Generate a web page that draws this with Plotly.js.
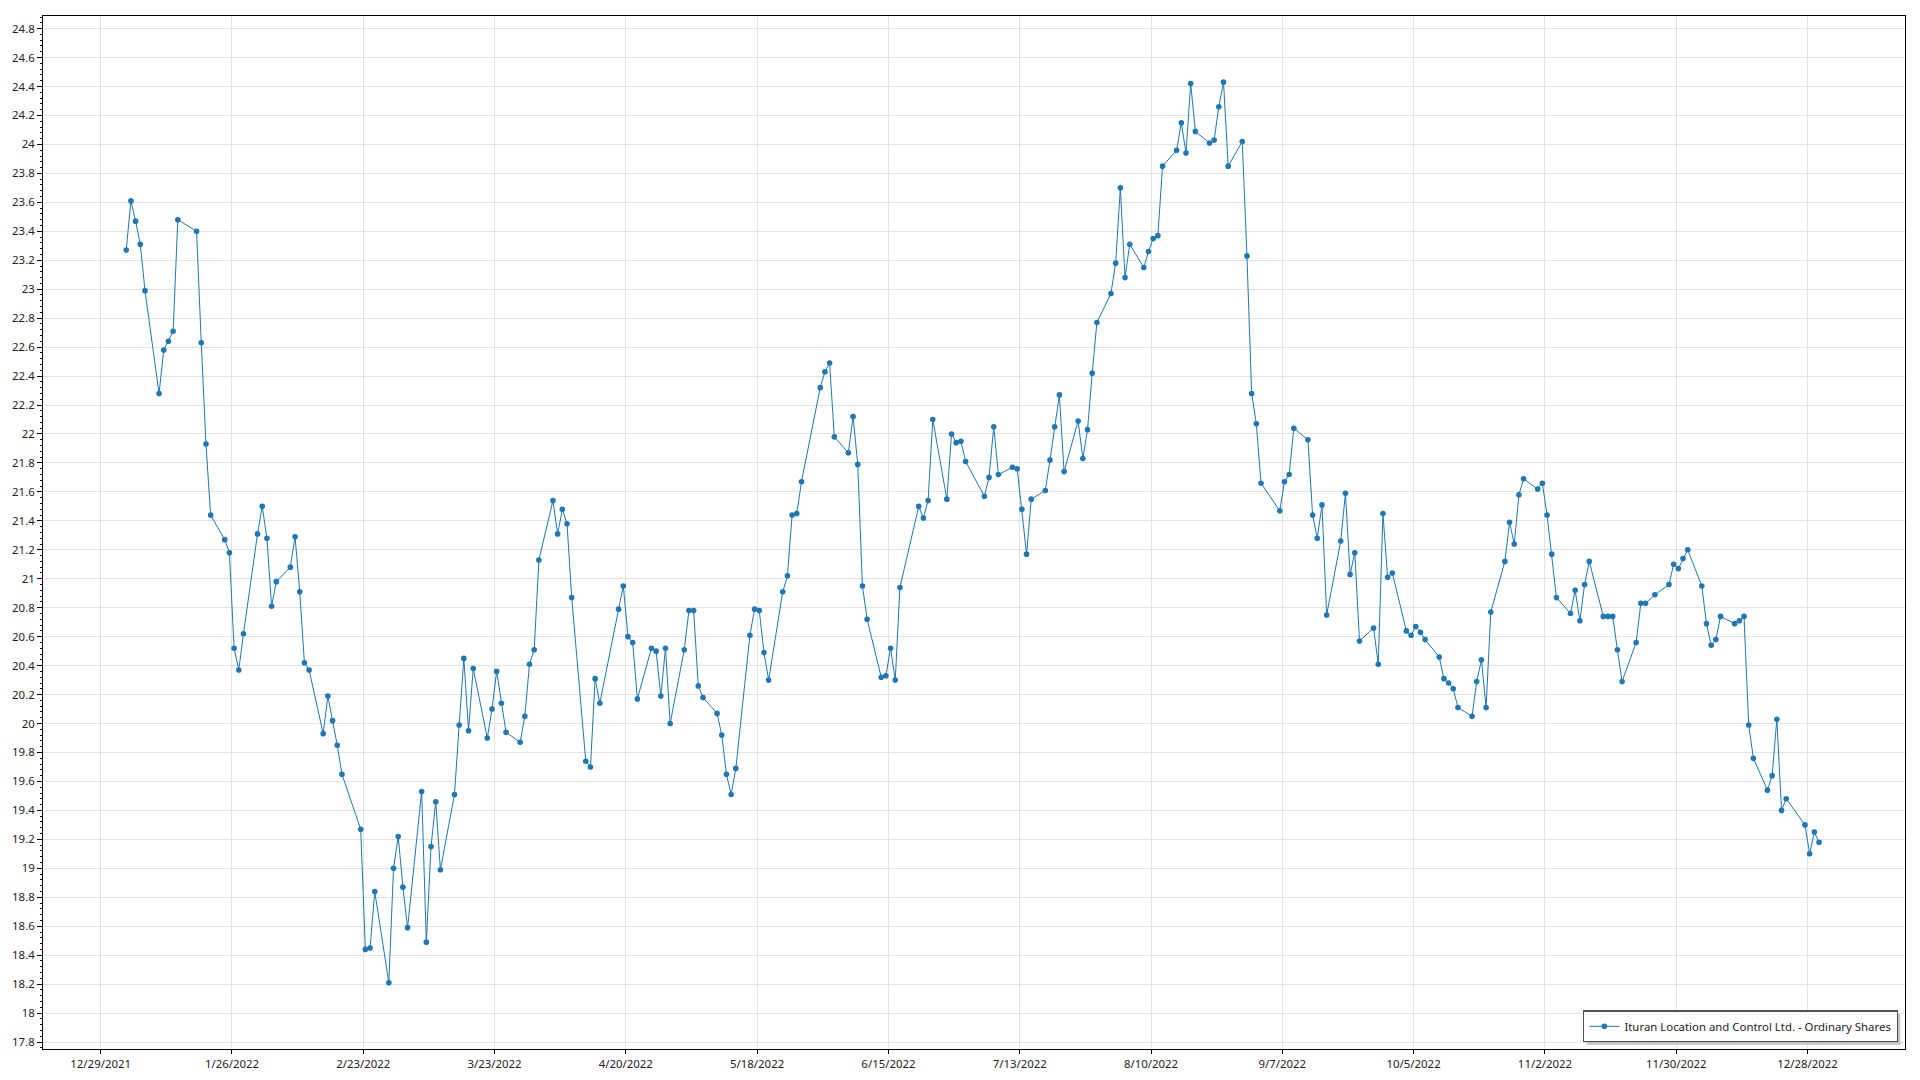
<!DOCTYPE html>
<html>
<head>
<meta charset="utf-8">
<script src="https://cdn.plot.ly/plotly-3.0.1.min.js"></script>
<style>
  html, body { margin: 0; padding: 0; background: #fff; }
  #chart { width: 1920px; height: 1080px; }
</style>
</head>
<body>
<div id="chart"></div>
<script>
const seriesName = "Ituran Location and Control Ltd. - Ordinary Shares";

const dates = [
  "2022-01-03","2022-01-04","2022-01-05","2022-01-06","2022-01-07",
  "2022-01-10","2022-01-11","2022-01-12","2022-01-13","2022-01-14",
  "2022-01-18","2022-01-19","2022-01-20","2022-01-21",
  "2022-01-24","2022-01-25","2022-01-26","2022-01-27","2022-01-28",
  "2022-01-31","2022-02-01","2022-02-02","2022-02-03","2022-02-04",
  "2022-02-07","2022-02-08","2022-02-09","2022-02-10","2022-02-11",
  "2022-02-14","2022-02-15","2022-02-16","2022-02-17","2022-02-18",
  "2022-02-22","2022-02-23","2022-02-24","2022-02-25",
  "2022-02-28","2022-03-01","2022-03-02","2022-03-03","2022-03-04",
  "2022-03-07","2022-03-08","2022-03-09","2022-03-10","2022-03-11",
  "2022-03-14","2022-03-15","2022-03-16","2022-03-17","2022-03-18",
  "2022-03-21","2022-03-22","2022-03-23","2022-03-24","2022-03-25",
  "2022-03-28","2022-03-29","2022-03-30","2022-03-31","2022-04-01",
  "2022-04-04","2022-04-05","2022-04-06","2022-04-07","2022-04-08",
  "2022-04-11","2022-04-12","2022-04-13","2022-04-14",
  "2022-04-18","2022-04-19","2022-04-20","2022-04-21","2022-04-22",
  "2022-04-25","2022-04-26","2022-04-27","2022-04-28","2022-04-29",
  "2022-05-02","2022-05-03","2022-05-04","2022-05-05","2022-05-06",
  "2022-05-09","2022-05-10","2022-05-11","2022-05-12","2022-05-13",
  "2022-05-16","2022-05-17","2022-05-18","2022-05-19","2022-05-20",
  "2022-05-23","2022-05-24","2022-05-25","2022-05-26","2022-05-27",
  "2022-05-31","2022-06-01","2022-06-02","2022-06-03",
  "2022-06-06","2022-06-07","2022-06-08","2022-06-09","2022-06-10",
  "2022-06-13","2022-06-14","2022-06-15","2022-06-16","2022-06-17",
  "2022-06-21","2022-06-22","2022-06-23","2022-06-24",
  "2022-06-27","2022-06-28","2022-06-29","2022-06-30","2022-07-01",
  "2022-07-05","2022-07-06","2022-07-07","2022-07-08",
  "2022-07-11","2022-07-12","2022-07-13","2022-07-14","2022-07-15",
  "2022-07-18","2022-07-19","2022-07-20","2022-07-21","2022-07-22",
  "2022-07-25","2022-07-26","2022-07-27","2022-07-28","2022-07-29",
  "2022-08-01","2022-08-02","2022-08-03","2022-08-04","2022-08-05",
  "2022-08-08","2022-08-09","2022-08-10","2022-08-11","2022-08-12",
  "2022-08-15","2022-08-16","2022-08-17","2022-08-18","2022-08-19",
  "2022-08-22","2022-08-23","2022-08-24","2022-08-25","2022-08-26",
  "2022-08-29","2022-08-30","2022-08-31","2022-09-01","2022-09-02",
  "2022-09-06","2022-09-07","2022-09-08","2022-09-09",
  "2022-09-12","2022-09-13","2022-09-14","2022-09-15","2022-09-16",
  "2022-09-19","2022-09-20","2022-09-21","2022-09-22","2022-09-23",
  "2022-09-26","2022-09-27","2022-09-28","2022-09-29","2022-09-30",
  "2022-10-03","2022-10-04","2022-10-05","2022-10-06","2022-10-07",
  "2022-10-10","2022-10-11","2022-10-12","2022-10-13","2022-10-14",
  "2022-10-17","2022-10-18","2022-10-19","2022-10-20","2022-10-21",
  "2022-10-24","2022-10-25","2022-10-26","2022-10-27","2022-10-28",
  "2022-10-31","2022-11-01","2022-11-02","2022-11-03","2022-11-04",
  "2022-11-07","2022-11-08","2022-11-09","2022-11-10","2022-11-11",
  "2022-11-14","2022-11-15","2022-11-16","2022-11-17","2022-11-18",
  "2022-11-21","2022-11-22","2022-11-23","2022-11-25",
  "2022-11-28","2022-11-29","2022-11-30","2022-12-01","2022-12-02",
  "2022-12-05","2022-12-06","2022-12-07","2022-12-08","2022-12-09",
  "2022-12-12","2022-12-13","2022-12-14","2022-12-15","2022-12-16",
  "2022-12-19","2022-12-20","2022-12-21","2022-12-22","2022-12-23",
  "2022-12-27","2022-12-28","2022-12-29","2022-12-30"
];

const prices = [
  23.27,23.61,23.47,23.31,22.99,
  22.28,22.58,22.64,22.71,23.48,
  23.40,22.63,21.93,21.44,
  21.27,21.18,20.52,20.37,20.62,
  21.31,21.50,21.28,20.81,20.98,
  21.08,21.29,20.91,20.42,20.37,
  19.93,20.19,20.02,19.85,19.65,
  19.27,18.44,18.45,18.84,
  18.21,19.00,19.22,18.87,18.59,
  19.53,18.49,19.15,19.46,18.99,
  19.51,19.99,20.45,19.95,20.38,
  19.90,20.10,20.36,20.14,19.94,
  19.87,20.05,20.41,20.51,21.13,
  21.54,21.31,21.48,21.38,20.87,
  19.74,19.70,20.31,20.14,
  20.79,20.95,20.60,20.56,20.17,
  20.52,20.50,20.19,20.52,20.00,
  20.51,20.78,20.78,20.26,20.18,
  20.07,19.92,19.65,19.51,19.69,
  20.61,20.79,20.78,20.49,20.30,
  20.91,21.02,21.44,21.45,21.67,
  22.32,22.43,22.49,21.98,
  21.87,22.12,21.79,20.95,20.72,
  20.32,20.33,20.52,20.30,20.94,
  21.50,21.42,21.54,22.10,
  21.55,22.00,21.94,21.95,21.81,
  21.57,21.70,22.05,21.72,
  21.77,21.76,21.48,21.17,21.55,
  21.61,21.82,22.05,22.27,21.74,
  22.09,21.83,22.03,22.42,22.77,
  22.97,23.18,23.70,23.08,23.31,
  23.15,23.26,23.35,23.37,23.85,
  23.96,24.15,23.94,24.42,24.09,
  24.01,24.03,24.26,24.43,23.85,
  24.02,23.23,22.28,22.07,21.66,
  21.47,21.67,21.72,22.04,
  21.96,21.44,21.28,21.51,20.75,
  21.26,21.59,21.03,21.18,20.57,
  20.66,20.41,21.45,21.01,21.04,
  20.64,20.61,20.67,20.63,20.58,
  20.46,20.31,20.28,20.24,20.11,
  20.05,20.29,20.44,20.11,20.77,
  21.12,21.39,21.24,21.58,21.69,
  21.62,21.66,21.44,21.17,20.87,
  20.76,20.92,20.71,20.96,21.12,
  20.74,20.74,20.74,20.51,20.29,
  20.56,20.83,20.83,20.89,
  20.96,21.10,21.07,21.14,21.20,
  20.95,20.69,20.54,20.58,20.74,
  20.69,20.71,20.74,19.99,19.76,
  19.54,19.64,20.03,19.40,19.48,
  19.30,19.10,19.25,19.18
];

// points in the reference sit about half a day after the date gridline
const sampleTime = " 11:00";
const xTickStart = "2021-12-29";
const xTickDays = 28;
const xRange = ["2021-12-16 17:00", "2023-01-17 19:00"];
const yRange = [17.752, 24.887];

const fontFamily = '"Noto Sans", "Open Sans", "DejaVu Sans", sans-serif';
const fontSize = 11.4;

const trace = {
  type: "scatter",
  mode: "lines+markers",
  name: seriesName,
  x: dates.map(d => d + sampleTime),
  y: prices,
  line: { color: "#1f77b4", width: 1 },
  marker: { color: "#1f77b4", size: 5.6 }
};

const margin = { l: 43, r: 15, t: 16, b: 31 };
const plotW = 1920 - margin.l - margin.r;
const plotH = 1080 - margin.t - margin.b;

const layout = {
  width: 1920,
  height: 1080,
  paper_bgcolor: "#ffffff",
  plot_bgcolor: "#ffffff",
  margin: Object.assign({ pad: 0 }, margin),
  font: { family: fontFamily, size: fontSize, color: "#222" },
  showlegend: true,
  legend: {
    x: 1 - 7 / plotW,
    y: 6.6 / plotH,
    xanchor: "right",
    yanchor: "bottom",
    bgcolor: "#ffffff",
    bordercolor: "#505050",
    borderwidth: 1.4,
    itemwidth: 30,
    font: { family: fontFamily, size: fontSize, color: "#222" }
  },
  xaxis: {
    type: "date",
    range: xRange,
    tick0: xTickStart,
    dtick: xTickDays * 86400000,
    tickformat: "%-m/%-d/%Y",
    ticks: "outside",
    ticklen: 4,
    tickcolor: "#000",
    showline: true,
    linecolor: "#000",
    linewidth: 1,
    mirror: true,
    showgrid: true,
    gridcolor: "#e2e2e2",
    gridwidth: 1,
    zeroline: false,
    tickfont: { family: fontFamily, size: fontSize, color: "#222" }
  },
  yaxis: {
    range: yRange,
    tick0: 0,
    dtick: 0.2,
    ticks: "outside",
    ticklen: 5,
    tickcolor: "#000",
    showline: true,
    linecolor: "#000",
    linewidth: 1,
    mirror: true,
    showgrid: true,
    gridcolor: "#e2e2e2",
    gridwidth: 1,
    zeroline: false,
    minor: { dtick: 0.04, ticks: "outside", ticklen: 2, tickcolor: "#000", showgrid: false },
    tickfont: { family: fontFamily, size: fontSize, color: "#222" }
  }
};

Plotly.newPlot("chart", [trace], layout, { displayModeBar: false, staticPlot: true }).then(gd => {
  // add a soft drop shadow behind the legend box, as in the reference
  const bg = gd.querySelector(".legend .bg");
  if (!bg) return;
  const host = gd.getBoundingClientRect();
  const r = bg.getBoundingClientRect();
  const off = 3;
  const x0 = (r.left - host.left + off - margin.l) / plotW;
  const x1 = (r.right - host.left + off - margin.l) / plotW;
  const y0 = 1 - (r.bottom - host.top + off - margin.t) / plotH;
  const y1 = 1 - (r.top - host.top + off - margin.t) / plotH;
  return Plotly.relayout(gd, {
    shapes: [{
      type: "rect", xref: "paper", yref: "paper",
      x0: x0, x1: x1, y0: y0, y1: y1,
      fillcolor: "#c4c4c4", line: { width: 0 }, layer: "above"
    }]
  });
});
</script>
</body>
</html>
